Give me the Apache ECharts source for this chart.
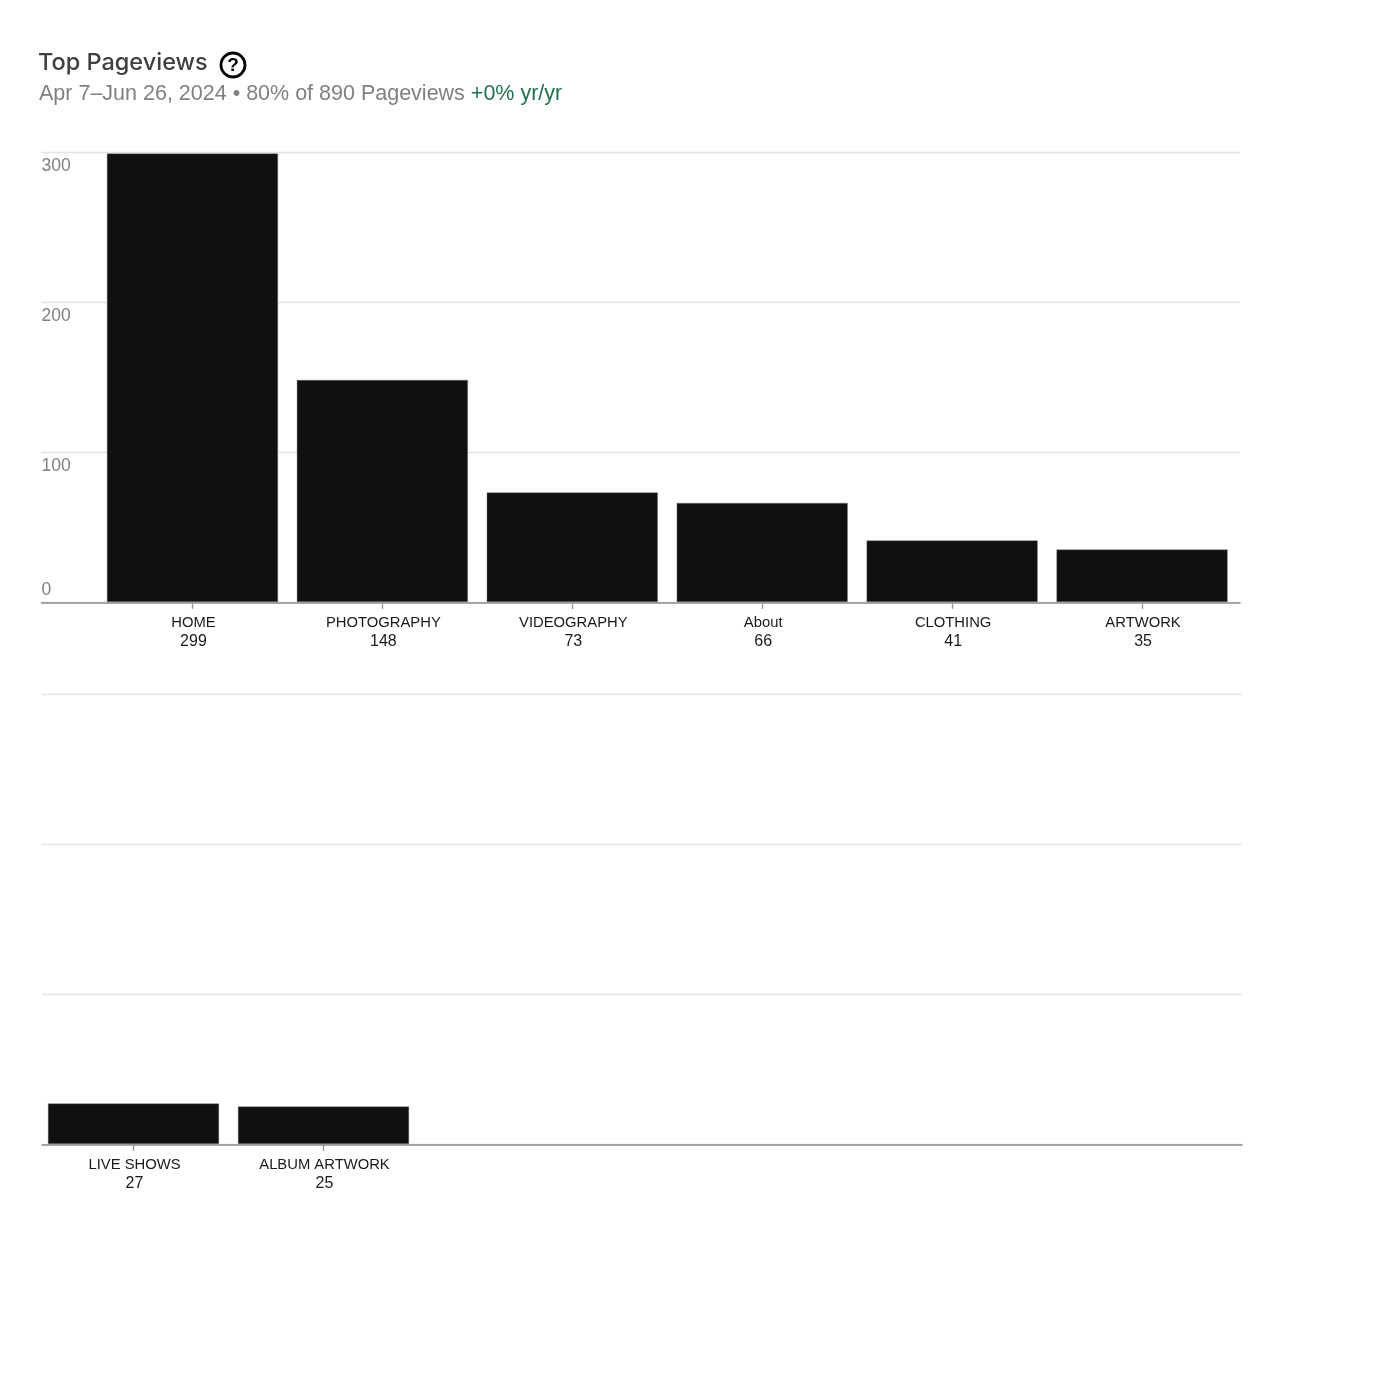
<!DOCTYPE html>
<html>
<head>
<meta charset="utf-8">
<style>html,body{margin:0;padding:0;background:#fff}#c{width:1400px;height:1400px}</style>
<script src="https://cdn.jsdelivr.net/npm/echarts@6/dist/echarts.min.js"></script>
</head>
<body>
<div id="c"></div>
<script>
const titleText = 'Top Pageviews';
const subtitleText = 'Apr 7\u2013Jun 26, 2024 \u2022 80% of 890 Pageviews ';
const changeText = '+0% yr/yr';
const categoriesA = ['HOME','PHOTOGRAPHY','VIDEOGRAPHY','About','CLOTHING','ARTWORK'];
const valuesA = [299,148,73,66,41,35];
const categoriesB = ['LIVE SHOWS','ALBUM ARTWORK'];
const valuesB = [27,25];
const yTicks = [0,100,200,300];

const FONT = 'Liberation Sans';
const chart = echarts.init(document.getElementById('c'), null, {renderer:'canvas'});

function bgY(gridIndex, showLabels){
  return {type:'value',gridIndex,min:yTicks[0],max:yTicks[yTicks.length-1],interval:100,
    axisLine:{show:false},axisTick:{show:false},
    splitLine:{show:true,lineStyle:{color:'#e4e4e4',width:1.4}},
    axisLabel:{show:showLabels,inside:true,margin:0,align:'left',verticalAlign:'top',
      verticalAlignMinLabel:'bottom',verticalAlignMaxLabel:'top',
      color:'#808080',fontFamily:FONT,fontSize:17.5,padding:[5,0,3,0]}};
}
function bgX(gridIndex){
  return {type:'value',gridIndex,min:0,max:1,splitLine:{show:false},axisTick:{show:false},axisLabel:{show:false},
    axisLine:{show:true,onZero:false,lineStyle:{color:'#8c8c8c',width:1.5}}};
}
function catX(gridIndex,data,vals){
  return {type:'category',gridIndex,data,
    axisLine:{show:false},
    axisTick:{show:true,alignWithLabel:true,length:7,lineStyle:{color:'#999999',width:1.4}},
    axisLabel:{interval:0,margin:11,padding:[0,0,0,2],
      formatter:(v,i)=>'{n|'+v+'}\n{v|'+vals[i]+'}',
      rich:{n:{color:'#1a1a1a',fontFamily:FONT,fontSize:14.8,lineHeight:19},
            v:{color:'#1a1a1a',fontFamily:FONT,fontSize:16,lineHeight:19}}}};
}
function hiddenY(gridIndex){
  return {type:'value',gridIndex,min:0,max:300,interval:100,show:false,splitLine:{show:false}};
}
function bars(idx,vals){
  return {type:'bar',xAxisIndex:idx,yAxisIndex:idx,data:vals,barWidth:171,silent:true,animation:false,
    itemStyle:{color:'#101010',borderColor:'#777777',borderWidth:0.4}};
}

chart.setOption({
  animation:false,
  backgroundColor:'#ffffff',
  grid:[
    {left:41.5,top:152.5,width:1198.5,height:450},
    {left:97.5,top:152,width:1139.5,height:450},
    {left:42,top:694.5,width:1200,height:450},
    {left:38.5,top:694,width:380,height:450}
  ],
  xAxis:[bgX(0),catX(1,categoriesA,valuesA),bgX(2),catX(3,categoriesB,valuesB)],
  yAxis:[bgY(0,true),hiddenY(1),bgY(2,false),hiddenY(3)],
  series:[bars(1,valuesA),bars(3,valuesB)],
  graphic:[
    {type:'text',left:38,top:51,style:{text:titleText,fontFamily:'Inter',fontSize:23.5,fontWeight:500,fill:'#404040'}},
    {type:'text',left:39,top:83,style:{
      text:'{a|'+subtitleText+'}{b|'+changeText+'}',
      rich:{a:{fontFamily:FONT,fontSize:21.5,fill:'#808080',fontWeight:'normal'},
            b:{fontFamily:FONT,fontSize:21.5,fill:'#22714f'}}}},
    {type:'circle',shape:{cx:233,cy:65,r:12},style:{fill:'#fff',stroke:'#000',lineWidth:2.8}},
    {type:'text',style:{text:'?',x:233,y:65.5,align:'center',verticalAlign:'middle',fontFamily:FONT,fontSize:19,fontWeight:'bold',fill:'#000'}}
  ]
});
</script>
</body>
</html>
